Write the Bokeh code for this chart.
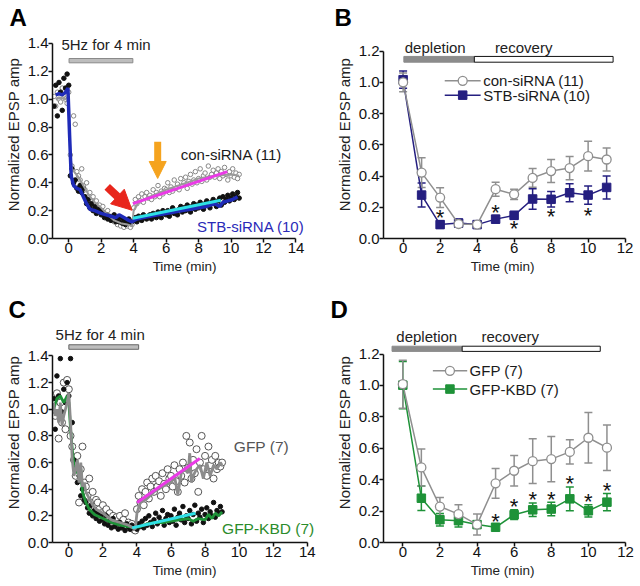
import numpy as np
from bokeh.plotting import figure
from bokeh.layouts import gridplot
from bokeh.models import (Label, Arrow, NormalHead, Whisker, TeeHead, ColumnDataSource,
                          FixedTicker, PrintfTickFormatter, Range1d)
from bokeh.core.properties import value
from bokeh.embed import file_html
from bokeh.resources import INLINE

FONT = "Liberation Sans"

# ---------------- DATA ----------------
# Panel A: time-course scatter (sampled every 0.1 min from -0.9 min)
a_t0, a_dt = -0.9, 0.1
a_con = [1.02, 0.95, 1.05, 1.0, 0.98, 1.08, 1.03, 1.0, 0.97,
         1.05,
         0.6, 0.52, 0.88, 0.82, 0.48, 0.45, 0.42, 0.5, 0.38,
         0.35, 0.4, 0.3, 0.33, 0.28, 0.3, 0.25, 0.27, 0.22, 0.24,
         0.2, 0.23, 0.18, 0.17, 0.2, 0.15, 0.14, 0.16, 0.12, 0.13,
         0.1, 0.12, 0.09, 0.11, 0.08, 0.1, 0.09, 0.11, 0.08, 0.1,
         0.22, 0.28, 0.25, 0.3, 0.27, 0.32, 0.26, 0.3, 0.33, 0.29,
         0.31, 0.28, 0.35, 0.3, 0.33, 0.38, 0.3, 0.34, 0.32, 0.36,
         0.35, 0.4, 0.33, 0.37, 0.34, 0.42, 0.36, 0.39, 0.35, 0.43,
         0.38, 0.4, 0.44, 0.36, 0.41, 0.46, 0.39, 0.42, 0.48, 0.4,
         0.43, 0.5, 0.41, 0.45, 0.47, 0.42, 0.52, 0.44, 0.46, 0.49,
         0.44, 0.47, 0.5, 0.43, 0.48, 0.45, 0.51, 0.46, 0.42, 0.48,
         0.45, 0.5, 0.44, 0.47, 0.43, 0.46]
a_stb = [0.95, 1.1, 0.88, 1.12, 1.05, 0.92, 1.15, 1.08, 1.18,
         1.1,
         0.45, 0.5, 0.4, 0.42, 0.36, 0.34, 0.38, 0.33, 0.36,
         0.3, 0.25, 0.28, 0.22, 0.25, 0.2, 0.23, 0.18, 0.21, 0.2,
         0.17, 0.19, 0.15, 0.17, 0.14, 0.16, 0.13, 0.15, 0.17, 0.12,
         0.14, 0.12, 0.15, 0.11, 0.13, 0.1, 0.12, 0.14, 0.11, 0.12,
         0.13, 0.15, 0.12, 0.16, 0.14, 0.13, 0.17, 0.15, 0.14, 0.16,
         0.17, 0.14, 0.18, 0.16, 0.15, 0.19, 0.17, 0.15, 0.2, 0.18,
         0.17, 0.2, 0.16, 0.19, 0.22, 0.18, 0.2, 0.17, 0.21, 0.23,
         0.19, 0.22, 0.2, 0.24, 0.21, 0.19, 0.23, 0.25, 0.21, 0.24,
         0.22, 0.26, 0.23, 0.21, 0.25, 0.27, 0.24, 0.22, 0.26, 0.28,
         0.25, 0.23, 0.27, 0.29, 0.24, 0.3, 0.26, 0.28, 0.31, 0.27,
         0.29, 0.32, 0.28, 0.3, 0.33, 0.29]
a_stb_mean_x = [-0.8, -0.6, -0.4, -0.2, -0.05, 0.05, 0.15, 0.3, 0.5, 0.7, 0.9, 1.1, 1.3, 1.6,
                2.0, 2.3, 2.6, 2.9, 3.1, 3.4, 3.7, 3.9, 4.2, 4.6, 5.0, 5.5, 6.0, 6.5, 7.0,
                7.5, 8.0, 8.5, 9.0, 9.3, 9.5, 9.8, 10.1, 10.4]
a_stb_mean_y = [1.03, 1.04, 1.03, 1.05, 1.08, 0.75, 0.45, 0.38, 0.36, 0.35, 0.3, 0.25, 0.21, 0.2,
                0.18, 0.17, 0.16, 0.15, 0.17, 0.15, 0.13, 0.12, 0.14, 0.15, 0.16, 0.17, 0.18,
                0.19, 0.2, 0.21, 0.22, 0.23, 0.25, 0.23, 0.26, 0.27, 0.28, 0.3]
a_con_mean_x = [-0.8, -0.5, -0.2, 0.0, 0.1, 0.2, 0.4, 0.6, 0.8, 1.0, 1.3, 1.6, 2.0, 2.4, 2.8,
                3.2, 3.6, 3.9, 4.0, 4.3, 5.0, 6.0, 7.0, 8.0, 9.0, 10.0, 10.5]
a_con_mean_y = [1.0, 1.01, 1.0, 1.02, 0.6, 0.5, 0.47, 0.44, 0.4, 0.36, 0.3, 0.26, 0.22, 0.17,
                0.13, 0.11, 0.1, 0.09, 0.2, 0.26, 0.3, 0.35, 0.39, 0.43, 0.45, 0.46, 0.45]
a_fit_con = ([3.95, 9.77], [0.25, 0.48])
a_fit_stb = ([3.95, 9.37], [0.145, 0.275])

# Panel B: binned means +/- SEM
b_time = [0, 1, 2, 3, 4, 5, 6, 7, 8, 9, 10, 11]
b_con = [1.0, 0.422, 0.262, 0.093, 0.089, 0.316, 0.283, 0.388, 0.432, 0.451, 0.527, 0.506]
b_con_err = [0.06, 0.095, 0.063, 0.02, 0.015, 0.045, 0.033, 0.06, 0.074, 0.074, 0.095, 0.074]
b_stb = [1.017, 0.278, 0.089, 0.099, 0.089, 0.124, 0.148, 0.253, 0.251, 0.293, 0.278, 0.327]
b_stb_err = [0.055, 0.077, 0.024, 0.025, 0.015, 0.024, 0.025, 0.065, 0.05, 0.058, 0.058, 0.074]
b_star_x = [2, 5, 6, 8, 10]
b_star_y = [0.152, 0.184, 0.084, 0.158, 0.169]

# Panel C: time-course scatter (sampled every 0.1 min from -0.9 min)
c_t0, c_dt = -0.9, 0.1
c_gfp = [1.1, 0.95, 1.12, 0.78, 1.05, 0.9, 1.2, 0.85, 1.22,
         1.15,
         0.8, 0.72, 0.62, 0.5, 0.65, 0.3, 0.55, 0.72, 0.45,
         0.42, 0.35, 0.48, 0.3, 0.38, 0.27, 0.32, 0.3, 0.25, 0.22,
         0.28, 0.2, 0.25, 0.18, 0.22, 0.17, 0.2, 0.15, 0.19, 0.14,
         0.2, 0.13, 0.17, 0.22, 0.12, 0.15, 0.11, 0.14, 0.1, 0.09,
         0.25, 0.35, 0.3, 0.4, 0.28, 0.38, 0.45, 0.33, 0.42, 0.48,
         0.38, 0.5, 0.42, 0.46, 0.35, 0.52, 0.44, 0.4, 0.55, 0.48,
         0.5, 0.42, 0.58, 0.46, 0.38, 0.55, 0.5, 0.6, 0.45, 0.8,
         0.56, 0.75, 0.48, 0.62, 0.52, 0.7, 0.38, 0.6, 0.8, 0.55,
         0.65, 0.5, 0.72, 0.58, 0.62, 0.48, 0.65, 0.55, 0.6, 0.57,
         0.6]
c_kbd = [1.08, 0.85, 1.25, 1.1, 1.38, 0.98, 1.15, 1.05, 1.2,
         1.1,
         1.38, 0.9, 0.62, 0.55, 0.45, 0.5, 0.35, 0.4, 0.32,
         0.3, 0.26, 0.22, 0.28, 0.2, 0.24, 0.18, 0.22, 0.16, 0.2,
         0.17, 0.14, 0.2, 0.13, 0.16, 0.11, 0.18, 0.12, 0.14, 0.1,
         0.15, 0.11, 0.13, 0.09, 0.14, 0.12, 0.1, 0.13, 0.11, 0.12,
         0.1, 0.14, 0.12, 0.16, 0.11, 0.18, 0.13, 0.2, 0.15, 0.12,
         0.17, 0.22, 0.14, 0.19, 0.16, 0.24, 0.13, 0.18, 0.21, 0.15,
         0.2, 0.16, 0.25, 0.13, 0.19, 0.22, 0.17, 0.27, 0.15, 0.2,
         0.18, 0.24, 0.14, 0.21, 0.28, 0.16, 0.22, 0.19, 0.25, 0.15,
         0.21, 0.26, 0.18, 0.23, 0.2, 0.3, 0.19, 0.24, 0.22, 0.27,
         0.23]
c_kbd_mean_x = [-0.9, -0.7, -0.5, -0.3, -0.1, 0.0, 0.1, 0.2, 0.3, 0.4, 0.5, 0.6, 0.7, 0.8, 1.0,
                1.2, 1.5, 2.0, 2.5, 3.0, 3.5, 3.8, 4.2, 4.6, 5.0, 5.5, 6.0, 6.5, 7.0, 7.3, 7.6,
                8.0, 8.2, 8.4, 8.6, 8.8, 9.0]
c_kbd_mean_y = [1.0, 1.08, 1.1, 1.05, 1.1, 1.05, 0.85, 0.7, 0.58, 0.52, 0.56, 0.5, 0.55, 0.38,
                0.3, 0.25, 0.21, 0.18, 0.15, 0.13, 0.12, 0.11, 0.12, 0.14, 0.15, 0.15, 0.16,
                0.17, 0.18, 0.16, 0.18, 0.17, 0.21, 0.18, 0.22, 0.2, 0.23]
c_gfp_mean_x = [-0.9, -0.8, -0.7, -0.6, -0.5, -0.4, -0.3, -0.2, -0.1, 0.0, 0.1, 0.2, 0.3, 0.4,
                0.5, 0.6, 0.7, 0.8, 0.9, 1.0, 1.2, 1.4, 1.6, 2.0, 2.5, 3.0, 3.5, 3.9, 4.0, 4.2,
                4.5, 5.0, 5.5, 6.0, 6.2, 6.4, 6.6, 6.8, 7.0, 7.1, 7.2, 7.3, 7.5, 7.7, 7.9, 8.1,
                8.3, 8.5, 8.7, 8.9, 9.0]
c_gfp_mean_y = [1.05, 0.95, 1.0, 0.9, 1.05, 0.88, 0.95, 1.0, 1.05, 1.12, 0.9, 0.62, 0.5, 0.55,
                0.62, 0.45, 0.6, 0.42, 0.45, 0.38, 0.33, 0.28, 0.25, 0.22, 0.17, 0.15, 0.13,
                0.1, 0.22, 0.3, 0.32, 0.38, 0.42, 0.45, 0.5, 0.36, 0.52, 0.55, 0.52, 0.67, 0.45,
                0.5, 0.55, 0.58, 0.48, 0.6, 0.5, 0.58, 0.55, 0.6, 0.58]
c_fit_gfp = ([4.01, 7.69], [0.30, 0.63])
c_fit_kbd = ([3.72, 7.44], [0.11, 0.22])

# Panel D: binned means +/- SEM
d_time = [0, 1, 2, 3, 4, 5, 6, 7, 8, 9, 10, 11]
d_gfp = [1.008, 0.478, 0.229, 0.181, 0.114, 0.377, 0.457, 0.518, 0.531, 0.577, 0.667, 0.604]
d_gfp_err = [0.153, 0.118, 0.057, 0.06, 0.067, 0.095, 0.097, 0.143, 0.144, 0.077, 0.161, 0.145]
d_kbd = [1.002, 0.282, 0.145, 0.139, 0.114, 0.097, 0.177, 0.208, 0.213, 0.278, 0.202, 0.257]
d_kbd_err = [0.15, 0.078, 0.04, 0.041, 0.02, 0.017, 0.031, 0.043, 0.043, 0.076, 0.039, 0.055]
d_star_x = [5, 6, 7, 8, 9, 10, 11]
d_star_y = [0.156, 0.251, 0.293, 0.293, 0.392, 0.278, 0.349]

y_ticks_a = [0.0, 0.2, 0.4, 0.6, 0.8, 1.0, 1.2, 1.4]
y_ticks_b = [0.0, 0.2, 0.4, 0.6, 0.8, 1.0, 1.2]
x_ticks_a = [0, 2, 4, 6, 8, 10, 12, 14]
x_ticks_b = [0, 2, 4, 6, 8, 10, 12]

# ---------------- STYLE ----------------
GRAY_PT = "#7a7a7a"
BLUE = "#1f2bb8"
NAVY = "#251f80"
GREEN = "#1e9238"
MAGENTA = "#ea3ae6"
CYAN = "#2fe0e6"


def make_fig(w, h, xr, yr, left, right, top, bottom, xticks, yticks, xb, yb,
             letter, letter_offset):
    p = figure(width=w, height=h, x_range=Range1d(*xr), y_range=Range1d(*yr),
               output_backend="svg", toolbar_location=None,
               min_border_left=left, min_border_right=right,
               min_border_top=top, min_border_bottom=bottom)
    p.outline_line_color = None
    p.grid.visible = False
    p.title.text = letter
    p.title.text_font = FONT
    p.title.text_font_size = "24px"
    p.title.text_font_style = "bold"
    p.title.text_color = "#000000"
    p.title.align = "left"
    p.title.offset = letter_offset
    p.title.standoff = 0
    for ax in (p.xaxis[0], p.yaxis[0]):
        ax.axis_line_width = 1.5
        ax.axis_line_color = "#111111"
        ax.major_tick_line_width = 1.5
        ax.major_tick_line_color = "#111111"
        ax.major_tick_out = 4
        ax.major_tick_in = 0
        ax.minor_tick_line_color = None
        ax.major_label_text_font = FONT
        ax.major_label_text_font_size = "15px"
        ax.major_label_text_color = "#111111"
        ax.major_label_standoff = 0
        ax.axis_label_text_font = FONT
        ax.axis_label_text_font_style = "normal"
        ax.axis_label_text_color = "#222222"
        ax.axis_label_standoff = 3
    p.xaxis[0].ticker = FixedTicker(ticks=xticks)
    p.yaxis[0].ticker = FixedTicker(ticks=yticks)
    p.xaxis[0].formatter = PrintfTickFormatter(format="%d")
    p.yaxis[0].formatter = PrintfTickFormatter(format="%.1f")
    p.xaxis[0].bounds = xb
    p.yaxis[0].bounds = yb
    p.xaxis[0].axis_label = "Time  (min)"
    p.xaxis[0].axis_label_text_font_size = "13.5px"
    p.yaxis[0].axis_label = "Normalized EPSP amp"
    p.yaxis[0].axis_label_text_font_size = "15px"
    return p


def txt(p, x, y, s, size="15px", color="#222222", align="left", baseline="middle"):
    p.add_layout(Label(x=x, y=y, text=s, text_font=FONT, text_font_size=size,
                       text_color=color, text_align=align, text_baseline=baseline))


def stars(p, xs, ys):
    p.text(x=xs, y=ys, text=["*"] * len(xs), text_font=value(FONT),
           text_font_size="22px", text_align="center", text_baseline="middle",
           y_offset=3, text_color="#111111")


# ---------------- PANEL A ----------------
pA = make_fig(320, 290, (-1, 15.51), (0, 1.493), 51, 0, 30, 52,
              x_ticks_a, y_ticks_a, (-1, 14), (0, 1.4), "A", -43)
a_time = [round(a_t0 + i * a_dt, 2) for i in range(len(a_con))]
pA.scatter(a_time, a_con, size=4.5, fill_color="white", line_color=GRAY_PT, line_width=0.9)
pA.scatter(a_time, a_stb, size=4.5, fill_color="#111111", line_color="#111111")
pA.line(a_con_mean_x, a_con_mean_y, line_color="#9a9a9a", line_width=2)
pA.line(a_stb_mean_x, a_stb_mean_y, line_color=BLUE, line_width=3.5)
pA.line(*a_fit_con, line_color=MAGENTA, line_width=3)
pA.line(*a_fit_stb, line_color=CYAN, line_width=3)
pA.quad(left=[0.02], right=[3.95], bottom=[1.261], top=[1.292],
        fill_color="#bdbdbd", line_color="#8a8a8a", line_width=1)
txt(pA, -0.45, 1.393, "5Hz for 4 min")
txt(pA, 6.9, 0.6, "con-siRNA (11)", color="#1a1a1a")
txt(pA, 7.9, 0.089, "STB-siRNA (10)", color="#2a2ab8")
pA.add_layout(Arrow(end=NormalHead(size=20, fill_color="#e8261c", line_color="#e8261c"),
                    x_start=2.37, y_start=0.37, x_end=3.9, y_end=0.203,
                    line_color="#e8261c", line_width=8))
pA.add_layout(Arrow(end=NormalHead(size=17, fill_color="#f5a31e", line_color="#f5a31e"),
                    x_start=5.48, y_start=0.694, x_end=5.48, y_end=0.431,
                    line_color="#f5a31e", line_width=7))

# ---------------- PANEL B ----------------
pB = make_fig(320, 290, (-1.06, 12.02), (0, 1.332), 59, 15, 30, 52,
              x_ticks_b, y_ticks_b, (-1.06, 12), (0, 1.2), "B", -49)
pB.quad(left=[0.04], right=[3.85], bottom=[1.129], top=[1.166],
        fill_color="#8c8c8c", line_color="#8c8c8c", line_width=1)
pB.quad(left=[3.85], right=[11.35], bottom=[1.129], top=[1.166],
        fill_color="white", line_color="#111111", line_width=1)
txt(pB, 0.09, 1.225, "depletion")
txt(pB, 4.96, 1.225, "recovery")
src_b_stb = ColumnDataSource(dict(x=b_time, y=b_stb,
                                  lo=[m - e for m, e in zip(b_stb, b_stb_err)],
                                  hi=[m + e for m, e in zip(b_stb, b_stb_err)]))
src_b_con = ColumnDataSource(dict(x=b_time, y=b_con,
                                  lo=[m - e for m, e in zip(b_con, b_con_err)],
                                  hi=[m + e for m, e in zip(b_con, b_con_err)]))
for src, col in ((src_b_stb, NAVY), (src_b_con, "#8f8f8f")):
    pB.add_layout(Whisker(source=src, base="x", upper="hi", lower="lo",
                          line_color=col, line_width=1.5,
                          upper_head=TeeHead(size=8, line_color=col, line_width=1.5),
                          lower_head=TeeHead(size=8, line_color=col, line_width=1.5)))
pB.line("x", "y", source=src_b_stb, line_color=NAVY, line_width=1.5)
pB.scatter("x", "y", source=src_b_stb, marker="square", size=8.5,
           fill_color=NAVY, line_color=NAVY)
pB.line("x", "y", source=src_b_con, line_color="#8f8f8f", line_width=1.5)
pB.scatter("x", "y", source=src_b_con, size=9, fill_color="white",
           line_color="#8f8f8f", line_width=1.3)
# legend
pB.line([2.25, 4.19], [1.01, 1.01], line_color="#8f8f8f", line_width=1.5)
pB.scatter([3.22], [1.01], size=9, fill_color="white", line_color="#8f8f8f", line_width=1.3)
pB.line([2.25, 4.19], [0.918, 0.918], line_color=NAVY, line_width=1.5)
pB.scatter([3.22], [0.918], marker="square", size=8.5, fill_color=NAVY, line_color=NAVY)
txt(pB, 4.33, 1.01, "con-siRNA (11)", color="#1a1a1a")
txt(pB, 4.33, 0.918, "STB-siRNA (10)", color="#1a1a1a")
stars(pB, b_star_x, b_star_y)

# ---------------- PANEL C ----------------
pC = make_fig(320, 296, (-0.96, 14.78), (0, 1.651), 52, 0, 32, 42,
              x_ticks_a, y_ticks_a, (-0.96, 14), (0, 1.4), "C", -44)
c_time = [round(c_t0 + i * c_dt, 2) for i in range(len(c_gfp))]
pC.scatter(c_time, c_gfp, size=7, fill_color="white", line_color="#555555", line_width=1)
pC.scatter(c_time, c_kbd, size=4.5, fill_color="#111111", line_color="#111111")
pC.line(c_kbd_mean_x, c_kbd_mean_y, line_color=GREEN, line_width=2.8)
pC.line(c_gfp_mean_x, c_gfp_mean_y, line_color="#8c8c8c", line_width=2.8)
pC.line(*c_fit_gfp, line_color=MAGENTA, line_width=3)
pC.line(*c_fit_kbd, line_color=CYAN, line_width=3)
pC.quad(left=[0.0], right=[4.1], bottom=[1.45], top=[1.484],
        fill_color="#bdbdbd", line_color="#666666", line_width=1)
txt(pC, -0.78, 1.558, "5Hz for 4 min")
txt(pC, 9.69, 0.723, "GFP (7)", size="15.5px", color="#555555")
txt(pC, 9.0, 0.104, "GFP-KBD (7)", size="15.5px", color="#2b8c2b")

# ---------------- PANEL D ----------------
pD = make_fig(320, 296, (-1.04, 12.0), (0, 1.401), 63, 10, 32, 44,
              x_ticks_b, y_ticks_b, (-1.04, 12), (0, 1.2), "D", -53)
pD.quad(left=[-0.58], right=[3.2], bottom=[1.217], top=[1.25],
        fill_color="#8c8c8c", line_color="#8c8c8c", line_width=1)
pD.quad(left=[3.2], right=[10.64], bottom=[1.217], top=[1.25],
        fill_color="white", line_color="#111111", line_width=1)
txt(pD, -0.35, 1.312, "depletion")
txt(pD, 4.24, 1.312, "recovery")
src_d_kbd = ColumnDataSource(dict(x=d_time, y=d_kbd,
                                  lo=[m - e for m, e in zip(d_kbd, d_kbd_err)],
                                  hi=[m + e for m, e in zip(d_kbd, d_kbd_err)]))
src_d_gfp = ColumnDataSource(dict(x=d_time, y=d_gfp,
                                  lo=[m - e for m, e in zip(d_gfp, d_gfp_err)],
                                  hi=[m + e for m, e in zip(d_gfp, d_gfp_err)]))
for src, col in ((src_d_kbd, GREEN), (src_d_gfp, "#8f8f8f")):
    pD.add_layout(Whisker(source=src, base="x", upper="hi", lower="lo",
                          line_color=col, line_width=1.5,
                          upper_head=TeeHead(size=8, line_color=col, line_width=1.5),
                          lower_head=TeeHead(size=8, line_color=col, line_width=1.5)))
pD.line("x", "y", source=src_d_kbd, line_color=GREEN, line_width=1.5)
pD.scatter("x", "y", source=src_d_kbd, marker="square", size=8.5,
           fill_color=GREEN, line_color=GREEN)
pD.line("x", "y", source=src_d_gfp, line_color="#8f8f8f", line_width=1.5)
pD.scatter("x", "y", source=src_d_gfp, size=9, fill_color="white",
           line_color="#8f8f8f", line_width=1.3)
pD.line([1.62, 3.47], [1.093, 1.093], line_color="#8f8f8f", line_width=1.5)
pD.scatter([2.54], [1.093], size=9, fill_color="white", line_color="#8f8f8f", line_width=1.3)
pD.line([1.62, 3.47], [0.977, 0.977], line_color=GREEN, line_width=1.5)
pD.scatter([2.54], [0.977], marker="square", size=8.5, fill_color=GREEN, line_color=GREEN)
txt(pD, 3.6, 1.093, "GFP (7)", color="#1a1a1a")
txt(pD, 3.6, 0.977, "GFP-KBD (7)", color="#1a1a1a")
stars(pD, d_star_x, d_star_y)

grid = gridplot([[pA, pB], [pC, pD]], toolbar_location=None)
open("out.html", "w").write(file_html(grid, INLINE))
